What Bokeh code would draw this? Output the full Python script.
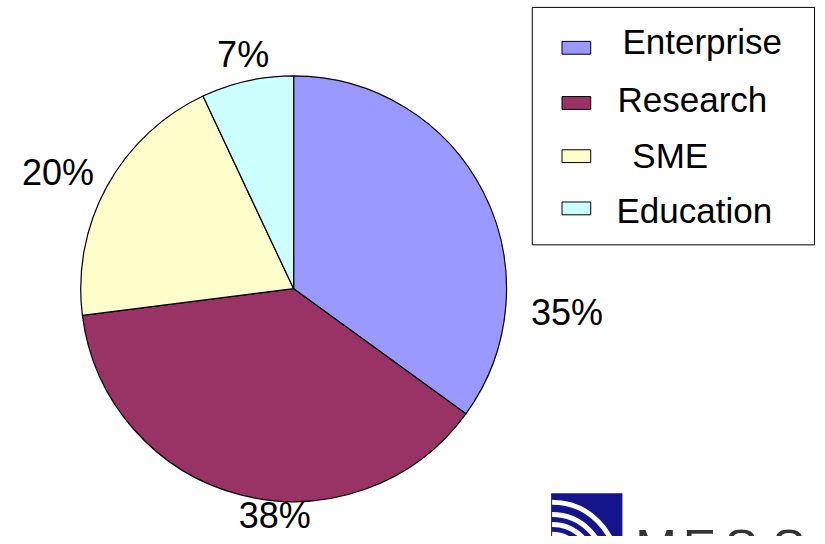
import numpy as np
from bokeh.plotting import figure
from bokeh.models import Range1d, ColumnDataSource
from bokeh.core.properties import value
from bokeh.embed import file_html
from bokeh.resources import INLINE

# ---- data ----
categories = ["Enterprise", "Research", "SME", "Education"]
shares = [35, 38, 20, 7]
colors = ["#9999FF", "#993366", "#FFFFCC", "#CCFFFF"]
pct_labels = ["35%", "38%", "20%", "7%"]

# ---- layout (reference pixel coordinates) ----
W, H = 825, 544
def Y(y):
    return H - y

cx, cy, R = 296, 292.5, 215
label_x = [572, 277, 58, 245]
label_mid = [316.5, 523, 175, 54.5]

leg_sw_y = [48, 104, 158, 211]
leg_txt_x = [628, 623, 638, 622]
leg_txt_mid = [42, 100, 157, 213]

FONT = "Liberation Sans"

p = figure(width=817, height=536, x_range=Range1d(0, W), y_range=Range1d(0, H),
           output_backend="svg", toolbar_location=None, min_border=0)
p.axis.visible = False
p.grid.visible = False
p.outline_line_color = None
p.background_fill_color = "white"
p.border_fill_color = "white"

# pie: clockwise from top
fr = np.array(shares, dtype=float) / sum(shares)
cum = np.concatenate([[0], np.cumsum(fr)])
start = np.pi / 2 - cum[1:] * 2 * np.pi
end = np.pi / 2 - cum[:-1] * 2 * np.pi
src = ColumnDataSource(dict(start=start, end=end, color=colors, cat=categories))
p.wedge(x=cx, y=Y(cy), radius=R, start_angle="start", end_angle="end",
        fill_color="color", line_color="black", line_width=1.2, source=src)

# percentage labels
p.text(x=label_x, y=[Y(v) for v in label_mid], text=pct_labels,
       text_font=value(FONT), text_font_size="36px", text_color="black",
       text_align="center", text_baseline="middle")

# legend box
p.quad(left=537, right=822, top=Y(7), bottom=Y(248), fill_color="white",
       line_color="black", line_width=1)
p.rect(x=[581.5] * 4, y=[Y(v) for v in leg_sw_y], width=29, height=13,
       fill_color=colors, line_color="black", line_width=1)
p.text(x=leg_txt_x, y=[Y(v) for v in leg_txt_mid], text=categories,
       text_font=value(FONT), text_font_size="35px", text_color="black",
       text_align="left", text_baseline="middle")

# logo (partially visible at bottom right)
p.quad(left=556, right=628, top=Y(500), bottom=-20, fill_color="#14148C", line_color=None)
for r in [65.5, 53, 43, 33]:
    p.arc(x=557, y=Y(575), radius=r, start_angle=0, end_angle=np.pi / 2,
          line_color="white", line_width=5)
logo_letters = ["M", "E", "S", "S", "I"]
logo_x = [641, 689, 731, 779, 820]
p.text(x=logo_x, y=[Y(556)] * 5, text=logo_letters,
       text_font=value(FONT), text_font_size="50px", text_color="#333333",
       text_align="left", text_baseline="middle")

open("out.html", "w").write(file_html(p, INLINE))
